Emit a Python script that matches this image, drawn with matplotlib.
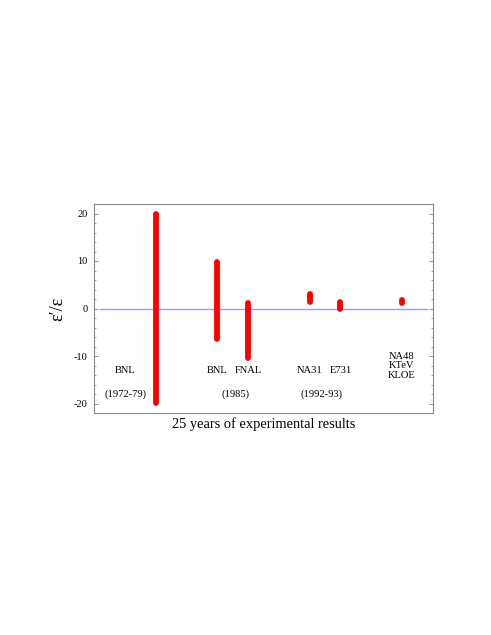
import matplotlib
matplotlib.use("Agg")
import matplotlib.pyplot as plt
from matplotlib.ticker import MultipleLocator

plt.rcParams["axes.unicode_minus"] = False

# Data
experiments = ["BNL", "BNL", "FNAL", "NA31", "E731", "NA48\nKTeV\nKLOE"]
x_pos = [1, 3, 4, 6, 7, 9]
lower = [-19.8, -6.5, -10.4, 1.3, 0.0, 1.1]
upper = [19.8, 9.8, 1.2, 3.1, 1.4, 1.7]
label_x = [0, 3, 4, 6, 7, 9]
periods = ["(1972-79)", "(1985)", "(1992-93)"]
period_x = [0, 3.6, 6.4]

serif = ["Liberation Serif", "DejaVu Serif"]

fig = plt.figure(figsize=(4.91, 6.35), dpi=100)
ax = fig.add_axes([94.3 / 491, 1 - 413 / 635, 338.4 / 491, 209 / 635])

ax.plot([-0.8, 9.8], [0, 0], color="#9a9aff", lw=1.0, zorder=1)
for x, lo, hi in zip(x_pos, lower, upper):
    ax.plot([x, x], [lo, hi], color="#ff0000", lw=4.2, solid_capstyle="round", zorder=2)

for x, name in zip(label_x, experiments):
    y = -13.05 if "\n" not in name else -12.1
    ax.text(x, y, name, ha="center", va="center", fontsize=7.6,
            family=serif, linespacing=1.1)
for x, p in zip(period_x, periods):
    ax.text(x, -18.0, p, ha="center", va="center", fontsize=7.6, family=serif)

ax.set_xlim(-1, 10)
ax.set_ylim(-22, 22)
ax.set_xticks([])
ax.yaxis.set_major_locator(MultipleLocator(10))
ax.yaxis.set_minor_locator(MultipleLocator(2))
ax.tick_params(axis="y", which="both", direction="in", left=True, right=True,
               color="#999999", labelsize=7.5, pad=5)
ax.tick_params(axis="y", which="major", length=3)
ax.tick_params(axis="y", which="minor", length=1.5)
for lab in ax.get_yticklabels():
    lab.set_family(serif)
for s in ax.spines.values():
    s.set_color("#888888")
    s.set_linewidth(0.8)

ax.set_xlabel("25 years of experimental results", fontsize=10.4, family=serif, labelpad=3)
ax.set_ylabel("ε′/ε", fontsize=13, family=serif, labelpad=5)

fig.savefig("out.png", dpi=100)
